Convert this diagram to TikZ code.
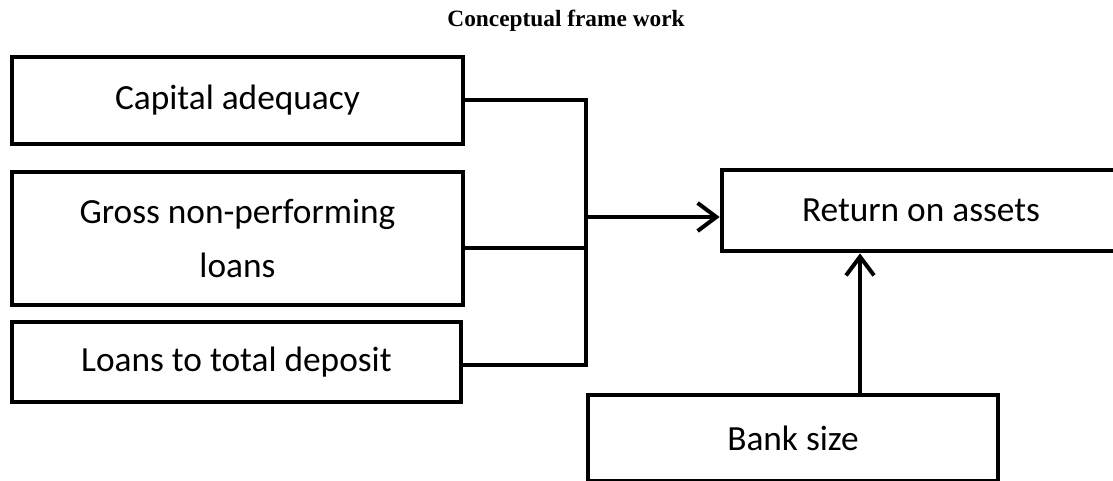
\documentclass[tikz,border=0pt]{standalone}
\usepackage{fontspec}
\setmainfont{Carlito}
\newfontfamily\titlefont{Liberation Serif}
\usetikzlibrary{arrows.meta}
\tikzstyle{factorBox}=[shape = rectangle, draw, line width = 3.6pt, inner sep = 0pt, align = center, font = \fontsize{26.5}{40.5}\selectfont]
\tikzstyle{titleStyle}=[font = \titlefont\bfseries\fontsize{17.5}{21}\selectfont]
\tikzstyle{link}=[line width = 3pt]
\tikzstyle{linkArrow}=[line width = 3pt, -{Straight Barb[length = 14pt, width = 21pt]}]

\begin{document}
\begin{tikzpicture}[x = 0.75pt, y = -0.75pt]
\clip (0,0) rectangle (1113,481);
\useasboundingbox (0,0) rectangle (1113,481);
\node[titleStyle] (title) at (566,21) {Conceptual frame work};
\node[factorBox, minimum width = 338.25pt, minimum height = 65.25pt] (capital) at (237.5,100.5) {Capital adequacy};
\node[factorBox, minimum width = 338.25pt, minimum height = 99.75pt] (gross) at (237.5,238.5) {Gross non-performing\\loans};
\node[factorBox, minimum width = 336.75pt, minimum height = 60pt] (loans) at (236.5,362) {Loans to total deposit};
\node[factorBox, minimum width = 298.5pt, minimum height = 60.75pt] (roa) at (921,210.5) {Return on assets};
\node[factorBox, minimum width = 307.5pt, minimum height = 64.5pt] (bank) at (793,438) {Bank size};
\coordinate (spineEnd) at (586,365);
\coordinate (grossJoin) at (586,248);
\coordinate (arrowStart) at (586,217);
\coordinate (sizeArrow) at (860,0);
\draw[link] (capital.east) -| (spineEnd) -- (loans.east |- spineEnd);
\draw[link] (gross.east |- grossJoin) -- (grossJoin);
\draw[linkArrow] (arrowStart) -- (roa.west |- arrowStart);
\draw[linkArrow] (bank.north -| sizeArrow) -- (roa.south -| sizeArrow);
\end{tikzpicture}
\end{document}
